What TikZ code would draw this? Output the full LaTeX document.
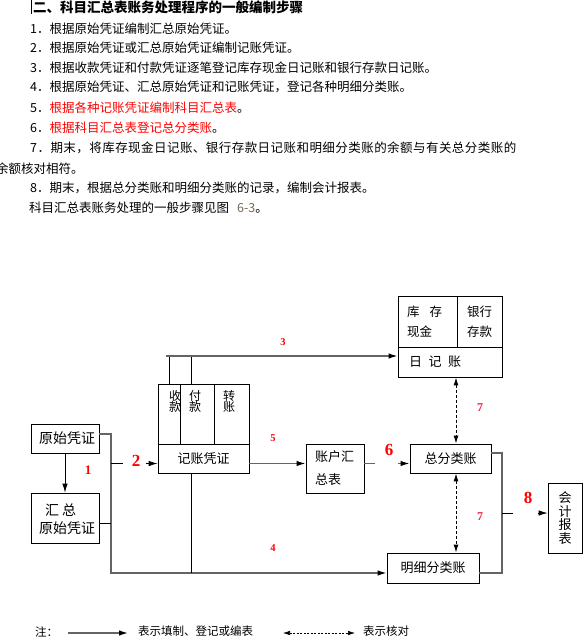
\documentclass[tikz,border=0pt]{standalone}
\usepackage{fontspec}
\newfontfamily\cjk{Noto Sans CJK SC}
\newfontfamily\cjkwide[LetterSpace=3.6]{Noto Sans CJK SC}
\newfontfamily\lblserif{Liberation Serif}
\usetikzlibrary{arrows.meta,calc}
\definecolor{lblred}{RGB}{255,0,0}
\definecolor{lblpink}{RGB}{250,30,70}
\definecolor{figref}{RGB}{120,105,80}
\definecolor{conngray}{RGB}{100,100,100}
\newcommand\topfont{\cjk\fontsize{12.5}{15}\selectfont}
\newcommand\dgmfont{\cjk\fontsize{13}{15}\selectfont}
\newcommand\lgdfont{\cjk\fontsize{11.5}{14}\selectfont}
\begin{document}
\begin{tikzpicture}[x=1pt,y=-1pt,
  topline/.style={anchor=west, inner sep=0pt, font=\topfont},
  box/.style={draw=black, line width=0.8pt, inner sep=0pt, font=\dgmfont, align=center},
  boxline/.style={draw=black, line width=0.8pt},
  plain/.style={inner sep=0pt, font=\dgmfont},
  conn/.style={draw=conngray, line width=1.3pt},
  thin/.style={draw=black, line width=0.8pt},
  tipk/.style={-{Latex[length=9pt,width=5.5pt,color=black]}},
  chk/.style={draw=black, line width=1pt, dash pattern=on 3pt off 2pt,
     {Latex[length=8pt,width=5pt]}-{Latex[length=8pt,width=5pt]}},
  chklg/.style={draw=black, line width=0.6pt, dash pattern=on 2pt off 1.5pt,
     {Latex[length=7pt,width=4.5pt]}-{Latex[length=7pt,width=4.5pt]}},
  bignum/.style={inner sep=0pt, text=lblred, font=\lblserif\bfseries\fontsize{17}{17}\selectfont},
  midnum/.style={inner sep=0pt, text=lblred, font=\lblserif\bfseries\fontsize{13}{13}\selectfont},
  sevennum/.style={inner sep=0pt, text=lblpink, font=\lblserif\bfseries\fontsize{12}{12}\selectfont},
  smallnum/.style={inner sep=0pt, text=lblred, font=\lblserif\bfseries\fontsize{10.5}{10.5}\selectfont}
]
\fill[white] (0,0) rectangle (587,643);
\useasboundingbox (0,0) rectangle (587,643);

% ---------- text ----------
\draw[line width=1pt] (31,0) -- (31,14);
\node[topline, font=\cjk\bfseries\fontsize{13.5}{15}\selectfont] (t0) at (33,7) {二、科目汇总表账务处理程序的一般编制步骤};
\node[topline] (t1) at (30,29) {1．根据原始凭证编制汇总原始凭证。};
\node[topline] (t2) at (30,48) {2．根据原始凭证或汇总原始凭证编制记账凭证。};
\node[topline] (t3) at (30,68) {3．根据收款凭证和付款凭证逐笔登记库存现金日记账和银行存款日记账。};
\node[topline] (t4) at (30,87) {4．根据原始凭证、汇总原始凭证和记账凭证，登记各种明细分类账。};
\node[topline] (t5) at (30,108) {5．\textcolor{lblred}{根据各种记账凭证编制科目汇总表}。};
\node[topline] (t6) at (30,128) {6．\textcolor{lblred}{根据科目汇总表登记总分类账}。};
\node[topline, font=\cjkwide\fontsize{12.5}{15}\selectfont] (t7) at (30,148) {7．期末，将库存现金日记账、银行存款日记账和明细分类账的余额与有关总分类账的};
\node[topline] (t7b) at (-4,169) {余额核对相符。};
\node[topline] (t8) at (30,188) {8．期末，根据总分类账和明细分类账的记录，编制会计报表。};
\node[topline] (t9) at (29,208) {科目汇总表账务处理的一般步骤见图\hspace{8pt}\textcolor{figref}{6-3}。};

% ---------- boxes ----------
\node[box, minimum width=59pt, minimum height=51pt, text width=41pt, inner xsep=9pt, align=left,
      font=\cjk\fontsize{12.5}{20}\selectfont] (kc) at (427.5,321.5) {库\hspace{10pt}存\\现金};
\node[box, minimum width=45pt, minimum height=51pt, font=\cjk\fontsize{12.5}{20}\selectfont] (yh) at (479.5,321.5) {银行\\存款};
\draw[line width=1.8pt] (kc.south west) -- (kc.south east);
\node[box, minimum height=30pt, text width=82pt, inner xsep=11pt, align=left] (rz) at (450,362) {日\hspace{6.5pt}记\hspace{6.5pt}账};

\node[box, minimum width=68pt, minimum height=29pt, font=\cjk\fontsize{14}{15}\selectfont] (yszp) at (65,438.5) {\hspace{4pt}原始凭证};
\node[box, minimum width=68pt, minimum height=50pt] (hzzp) at (65,518) {};
\node[plain, anchor=west, align=left, font=\cjk\fontsize{14}{18}\selectfont] (hzzptxt) at (39,519) {\hspace{6pt}汇\hspace{3pt}总\\原始凭证};

\node[box, minimum width=91pt, minimum height=60pt] (jztop) at (203.5,414) {};
\node[box, minimum width=91pt, minimum height=29pt] (jz) at (203.5,458.5) {记账凭证};
\draw[boxline] ([xshift=23pt]jztop.north west) -- ([xshift=23pt]jztop.south west);
\draw[boxline] ([xshift=57pt]jztop.north west) -- ([xshift=57pt]jztop.south west);
\node[plain, align=center, font=\cjk\fontsize{12}{11.5}\selectfont] (sk) at (175,401.5) {收\\款};
\node[plain, align=center, font=\cjk\fontsize{12}{11.5}\selectfont] (fk) at (195,401.5) {付\\款};
\node[plain, align=center, font=\cjk\fontsize{12}{11.5}\selectfont] (zzh) at (229,401.5) {转\\账};

\node[box, minimum height=49pt, text width=40pt, inner xsep=9pt, align=left,
      font=\cjk\fontsize{13}{23}\selectfont] (zh) at (335,468.5) {账户汇\\总表};
\node[box, minimum width=81pt, minimum height=29pt] (zf) at (450.5,458.5) {总分类账};
\node[box, minimum width=92pt, minimum height=30pt] (mx) at (433,568) {明细分类账};
\node[box, minimum width=34pt, minimum height=70pt, font=\cjk\fontsize{13}{13.5}\selectfont] (kj) at (565,518) {会\\计\\报\\表};

% ---------- coordinates ----------
\coordinate (row2) at (0,463.5);
\coordinate (l3s) at (166,356);
\coordinate (skup) at (169,356);
\coordinate (fkup) at (191,356);
\coordinate (bus4) at (111,573);
\coordinate (bus8) at (502,513);
\coordinate (chkx) at (456,0);

% ---------- connectors ----------
% 1
\draw[thin, tipk] (yszp) -- (hzzp);
\node[midnum] (n1) at (88,470) {1};
% bus to 2 and 4
\draw[conn, tipk] ([yshift=4.5pt]yszp.east) -| (bus4) -- (bus4 -| mx.west);
\draw[thin] ([yshift=-5pt]hzzp.east) -- ([yshift=-5pt]hzzp.east -| bus4);
\draw[thin] (bus4 |- row2) -- ++(12,0);
\draw[thin, tipk] ($(jz.west |- row2)+(-12,0)$) -- (jz.west |- row2);
\node[bignum] (n2) at (136,461) {2};
% 3
\draw[thin] (skup) -- (skup |- jztop.north);
\draw[thin] (fkup) -- (fkup |- jztop.north);
\draw[conn, tipk] (l3s) -- (l3s -| rz.west);
\node[smallnum] (n3) at (283,342) {3};
% 4
\draw[thin] (jz.south -| fkup) -- (fkup |- bus4);
\node[smallnum] (n4) at (273,548) {4};
% 5
\draw[conn, tipk] (jz.east |- row2) -- (zh.west |- row2);
\node[smallnum] (n5) at (273,438) {5};
% 6
\draw[conn] (zh.east |- row2) -- ++(11,0);
\draw[conn, tipk] ($(zf.west |- row2)+(-12,0)$) -- (zf.west |- row2);
\node[bignum] (n6) at (389,450) {6};
% 7
\draw[chk] (rz.south -| chkx) -- (zf.north -| chkx);
\draw[chk] (zf.south -| chkx) -- (mx.north -| chkx);
\node[sevennum] (n7a) at (480,408) {7};
\node[sevennum] (n7b) at (480,517) {7};
% 8
\draw[conn] ([yshift=5.5pt]zf.east) -| (bus8) |- ([yshift=-5pt]mx.east);
\draw[thin] (bus8) -- ++(11,0);
\draw[thin, tipk] ($(kj.west |- bus8)+(-10,0)$) -- (kj.west |- bus8);
\node[bignum] (n8) at (528,498) {8};

% ---------- legend ----------
\node[plain, anchor=west, font=\lgdfont] (lg0) at (35,632) {注：};
\coordinate (lga) at (68,633);
\coordinate (lgb) at (128,633);
\draw[conn, tipk] (lga) -- (lgb);
\node[plain, anchor=west, font=\lgdfont] (lg1) at (138,631) {表示填制、登记或编表};
\coordinate (lgc) at (283,633);
\coordinate (lgd) at (355,633);
\draw[chklg] (lgc) -- (lgd);
\node[plain, anchor=west, font=\lgdfont] (lg2) at (363,631) {表示核对};
\end{tikzpicture}
\end{document}
